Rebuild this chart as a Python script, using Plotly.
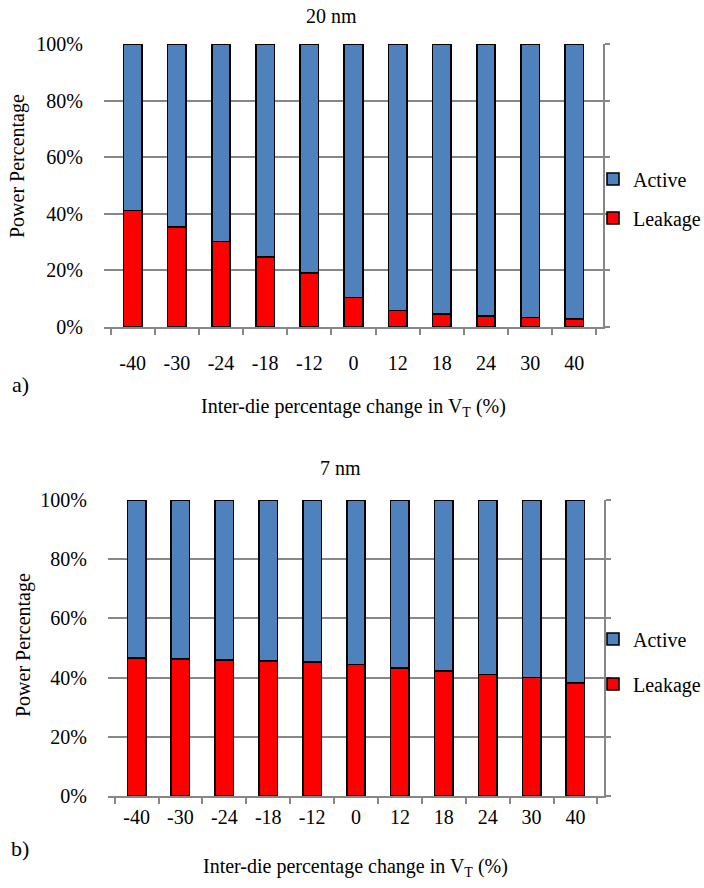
import plotly.graph_objects as go

# Inter-die V_T shift categories (%)
categories = ["-40", "-30", "-24", "-18", "-12", "0", "12", "18", "24", "30", "40"]

# Leakage share of total power (%), 20 nm node
leakage_20nm = [41.1, 35.3, 30.2, 24.7, 19.0, 10.4, 5.8, 4.5, 3.8, 3.3, 2.9]
active_20nm = [100 - v for v in leakage_20nm]

# Leakage share of total power (%), 7 nm node
leakage_7nm = [46.7, 46.3, 46.0, 45.6, 45.3, 44.4, 43.2, 42.3, 41.1, 40.1, 38.2]
active_7nm = [100 - v for v in leakage_7nm]

y_ticks = [0, 20, 40, 60, 80, 100]
y_tick_text = ["0%", "20%", "40%", "60%", "80%", "100%"]

W, H = 704, 888
FONT = "Liberation Serif, Times New Roman, serif"
BLUE = "#4F81BD"
RED = "#FF0000"
GRID = "#878787"


def px(x):
    return x / W


def py(y):
    return (H - y) / H


fig = go.Figure()

panels = [
    dict(x="x", y="y", leak=leakage_20nm, act=active_20nm, legend="legend"),
    dict(x="x2", y="y2", leak=leakage_7nm, act=active_7nm, legend="legend2"),
]

for p in panels:
    fig.add_trace(go.Bar(
        x=categories, y=p["leak"], name="Leakage", xaxis=p["x"], yaxis=p["y"],
        marker=dict(color=RED, line=dict(color="black", width=1.6)),
        legend=p["legend"], legendgroup="leak", legendrank=2,
    ))
    fig.add_trace(go.Bar(
        x=categories, y=p["act"], name="Active", xaxis=p["x"], yaxis=p["y"],
        marker=dict(color=BLUE, line=dict(color="black", width=1.6)),
        legend=p["legend"], legendgroup="act", legendrank=1,
    ))

# invisible traces to carry the right-hand frame axes
fig.add_trace(go.Scatter(x=categories, y=[None] * len(categories), xaxis="x", yaxis="y3",
                         showlegend=False, hoverinfo="skip"))
fig.add_trace(go.Scatter(x=categories, y=[None] * len(categories), xaxis="x2", yaxis="y4",
                         showlegend=False, hoverinfo="skip"))

tick_font = dict(family=FONT, size=20, color="black")

xaxis_common = dict(
    type="category", showline=True, linecolor=GRID, linewidth=1.5,
    ticks="outside", tickson="boundaries", ticklen=6, tickcolor=GRID, tickwidth=1.5,
    tickfont=tick_font, showgrid=False, fixedrange=True, automargin=False,
)
yaxis_common = dict(
    range=[0, 100], tickvals=y_ticks, ticktext=y_tick_text, tickfont=tick_font,
    showgrid=True, gridcolor=GRID, gridwidth=1.5, showline=False, zeroline=False,
    ticks="", ticklabelstandoff=20, fixedrange=True, automargin=False,
)
right_common = dict(
    range=[0, 100], tickvals=y_ticks, showticklabels=False, side="right",
    showline=True, linecolor=GRID, linewidth=1.5, ticks="outside", ticklen=5,
    tickcolor=GRID, tickwidth=1.5, showgrid=False, zeroline=False, fixedrange=True,
    automargin=False,
)

legend_common = dict(
    font=dict(family=FONT, size=20, color="black"), traceorder="grouped",
    xanchor="left", yanchor="middle", bgcolor="rgba(0,0,0,0)", itemclick=False,
    itemwidth=30,
)

fig.update_layout(
    width=W, height=H, margin=dict(l=0, r=0, t=0, b=0, autoexpand=False),
    paper_bgcolor="white", plot_bgcolor="white",
    barmode="stack", bargap=0.58,
    font=dict(family=FONT, size=20, color="black"),
    xaxis=dict(domain=[px(104), px(603)], anchor="y", ticklabelstandoff=17, **xaxis_common),
    yaxis=dict(domain=[py(327), py(44)], anchor="x", **yaxis_common),
    xaxis2=dict(domain=[px(108), px(604)], anchor="y2", ticklabelstandoff=2, **xaxis_common),
    yaxis2=dict(domain=[py(796), py(500)], anchor="x2", **yaxis_common),
    yaxis3=dict(overlaying="y", anchor="x", **right_common),
    yaxis4=dict(overlaying="y2", anchor="x2", **right_common),
    legend=dict(x=px(593), y=py(198.5), tracegroupgap=10, **legend_common),
    legend2=dict(x=px(593), y=py(661.5), tracegroupgap=16, **legend_common),
    showlegend=True,
)

annotations = [
    dict(text="20 nm", x=px(331), y=py(16)),
    dict(text="7 nm", x=px(340), y=py(468)),
    dict(text="Inter-die percentage change in V<sub>T</sub> (%)", x=px(353), y=py(407)),
    dict(text="Inter-die percentage change in V<sub>T</sub> (%)", x=px(355), y=py(867)),
    dict(text="a)", x=px(20), y=py(384), size=22),
    dict(text="b)", x=px(20), y=py(848), size=22),
    dict(text="Power Percentage", x=px(18), y=py(166), angle=-90),
    dict(text="Power Percentage", x=px(23), y=py(645), angle=-90),
]
for a in annotations:
    fig.add_annotation(
        text=a["text"], x=a["x"], y=a["y"], xref="paper", yref="paper",
        xanchor="center", yanchor="middle", showarrow=False,
        textangle=a.get("angle", 0),
        font=dict(family=FONT, size=a.get("size", 20), color="black"),
    )

fig.write_html("out.html")
